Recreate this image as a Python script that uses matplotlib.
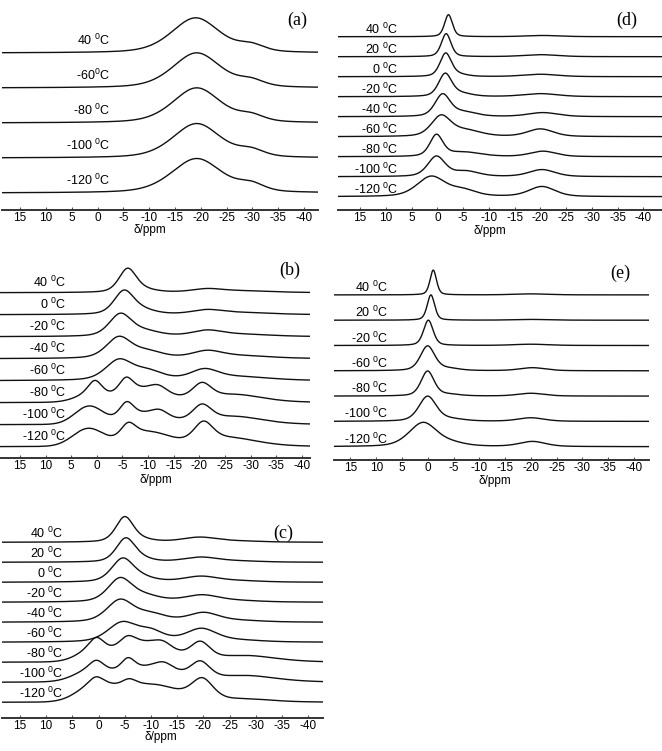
import numpy as np
import matplotlib
matplotlib.use("Agg")
import matplotlib.pyplot as plt

plt.rcParams['font.family'] = ['Liberation Sans', 'DejaVu Sans']
plt.rcParams['mathtext.fontset'] = 'custom'
plt.rcParams['mathtext.rm'] = 'Liberation Sans'
plt.rcParams['mathtext.it'] = 'Liberation Sans'
plt.rcParams['axes.unicode_minus'] = False

# ---- data: each trace = list of (centre ppm, height, width ppm[, lorentz fraction]),
# top trace first; heights in units of the trace spacing
a_labels = ["40 $^0$C", "-60$^0$C", "-80 $^0$C", "-100 $^0$C", "-120 $^0$C"]
a_peaks = [
    [(-19.0, 1.00, 11.0), (-29.8, 0.18, 6.0)],
    [(-19.2, 1.00, 11.0), (-29.8, 0.17, 6.0)],
    [(-19.2, 1.00, 11.0), (-29.8, 0.17, 6.0)],
    [(-19.2, 0.98, 11.0), (-29.8, 0.18, 6.0)],
    [(-19.2, 0.98, 11.5), (-29.8, 0.20, 6.0)],
]

b_labels = ["40 $^0$C", "0 $^0$C", "-20 $^0$C", "-40 $^0$C", "-60 $^0$C",
            "-80 $^0$C", "-100 $^0$C", "-120 $^0$C"]
b_peaks = [
    [(-6.0, 1.05, 4.0), (-9.0, 0.12, 6.0), (-21.5, 0.14, 7.0), (-28.0, 0.08, 14.0)],
    [(-5.3, 1.05, 4.6), (-9.0, 0.18, 6.0), (-21.5, 0.18, 7.0), (-28.0, 0.09, 14.0)],
    [(-4.6, 1.00, 5.2), (-9.5, 0.22, 7.0), (-21.5, 0.24, 7.0), (-28.0, 0.10, 14.0)],
    [(-4.3, 0.95, 5.8), (-10.0, 0.30, 7.0), (-21.5, 0.30, 7.0), (-28.0, 0.12, 14.0)],
    [(-4.3, 0.90, 6.2), (-10.0, 0.40, 7.0), (-21.0, 0.45, 6.5), (-28.0, 0.16, 14.0)],
    [(1.0, 0.35, 7.0, 0.0), (0.35, 0.60, 3.2), (-9.5, 0.55, 10.0, 0.0), (-5.7, 0.72, 3.4),
     (-12.0, 0.28, 4.0), (-20.5, 0.72, 4.5), (-27.0, 0.35, 13.0)],
    [(1.5, 0.82, 6.5, 0.0), (-10.0, 0.45, 9.0, 0.0), (-5.8, 0.75, 3.4),
     (-12.3, 0.25, 3.8), (-20.5, 0.75, 4.5), (-27.0, 0.35, 13.0)],
    [(1.7, 0.80, 7.0, 0.0), (-10.0, 0.62, 10.0, 0.0), (-6.1, 0.65, 3.5),
     (-20.8, 0.90, 4.5), (-26.0, 0.38, 13.0)],
]

c_labels = ["40 $^0$C", "20 $^0$C", "0 $^0$C", "-20 $^0$C", "-40 $^0$C", "-60 $^0$C",
            "-80 $^0$C", "-100 $^0$C", "-120 $^0$C"]
c_peaks = [
    [(-5.0, 1.25, 4.0), (-8.5, 0.10, 5.0), (-19.3, 0.24, 8.0), (-27.0, 0.05, 10.0)],
    [(-5.2, 1.18, 4.3), (-8.5, 0.12, 5.0), (-19.5, 0.24, 8.0), (-27.0, 0.05, 10.0)],
    [(-4.6, 1.15, 5.0), (-8.5, 0.18, 6.0), (-19.5, 0.28, 8.0), (-27.0, 0.06, 10.0)],
    [(-4.1, 1.15, 5.5), (-9.0, 0.28, 7.0), (-19.7, 0.34, 8.0), (-27.0, 0.06, 10.0)],
    [(-4.1, 1.08, 6.0), (-10.0, 0.38, 7.0), (-20.0, 0.45, 7.0), (-27.0, 0.07, 10.0)],
    [(-4.5, 0.95, 6.5), (-10.0, 0.50, 6.0), (-19.6, 0.65, 7.0), (-27.0, 0.08, 10.0)],
    [(1.0, 0.55, 7.0, 0.0), (0.4, 0.55, 3.3), (-9.0, 0.90, 11.0, 0.0), (-5.5, 0.55, 3.8),
     (-12.3, 0.30, 4.2), (-19.4, 0.85, 4.5), (-28.0, 0.32, 14.0)],
    [(1.0, 0.60, 8.0, 0.0), (0.4, 0.42, 3.2), (-10.0, 0.70, 11.0, 0.0), (-5.6, 0.65, 3.2),
     (-12.5, 0.33, 4.2), (-19.4, 0.85, 4.5), (-28.0, 0.32, 14.0)],
    [(0.5, 0.85, 8.0, 0.0), (0.5, 0.30, 3.0), (-10.0, 0.85, 12.0, 0.0), (-5.8, 0.40, 3.5),
     (-19.8, 1.05, 5.0), (-28.0, 0.15, 12.0)],
]

d_labels = ["40 $^0$C", "20 $^0$C", "0 $^0$C", "-20 $^0$C", "-40 $^0$C", "-60 $^0$C",
            "-80 $^0$C", "-100 $^0$C", "-120 $^0$C"]
d_peaks = [
    [(-2.15, 1.10, 1.8), (-20.5, 0.06, 8.0)],
    [(-1.7, 1.15, 2.2), (-20.0, 0.10, 8.0)],
    [(-1.6, 1.15, 2.6), (-4.0, 0.10, 4.0), (-20.0, 0.12, 8.0)],
    [(-1.5, 1.12, 3.0), (-4.5, 0.15, 5.0), (-20.0, 0.15, 8.0)],
    [(-1.0, 1.08, 3.5), (-5.0, 0.22, 6.0), (-20.5, 0.20, 7.0)],
    [(-0.7, 1.00, 4.5), (-5.5, 0.30, 7.0), (-20.0, 0.38, 6.0)],
    [(0.2, 1.05, 3.0), (-5.0, 0.22, 8.0), (-20.5, 0.27, 6.0)],
    [(0.2, 1.00, 4.0), (-5.5, 0.26, 6.0), (-20.3, 0.35, 6.0)],
    [(1.2, 1.00, 6.5), (-5.0, 0.30, 6.0), (-20.3, 0.50, 6.0)],
]

e_labels = ["40 $^0$C", "20 $^0$C", "-20 $^0$C", "-60 $^0$C", "-80 $^0$C",
            "-100 $^0$C", "-120 $^0$C"]
e_peaks = [
    [(-1.05, 0.98, 1.5), (-20.0, 0.04, 8.0)],
    [(-0.6, 1.00, 1.7), (-20.0, 0.03, 8.0)],
    [(-0.1, 1.00, 2.2), (-20.0, 0.05, 8.0)],
    [(0.05, 0.97, 3.3), (-4.0, 0.08, 5.0), (-20.3, 0.12, 6.0)],
    [(0.05, 0.98, 3.0), (-4.0, 0.06, 5.0), (-20.0, 0.11, 6.0)],
    [(0.05, 0.98, 4.0), (-4.5, 0.08, 6.0), (-20.0, 0.14, 6.0)],
    [(0.9, 0.95, 6.5), (-5.0, 0.10, 6.0), (-20.3, 0.20, 6.0)],
]

ppm_ticks = [15, 10, 5, 0, -5, -10, -15, -20, -25, -30, -35, -40]


def line_shape(x, peaks):
    y = np.zeros_like(x)
    for p in peaks:
        c, h, w = p[:3]
        eta = p[3] if len(p) > 3 else 0.4
        d = (x - c) / w
        y += h * (eta / (1 + 4 * d ** 2) + (1 - eta) * np.exp(-4 * np.log(2) * d ** 2))
    return y


W, H = 662, 751
fig = plt.figure(figsize=(W / 100, H / 100), dpi=100)


def panel(labels, peaks, tag, box, base0, spacing, xlim, lab_x, lab_dy, tag_xy, xlab_xy):
    left, right, top, axis_y = box
    ax = fig.add_axes([left / W, 1 - axis_y / H, (right - left) / W, (axis_y - top) / H])
    x = np.linspace(xlim[0], xlim[1], 1500)
    n = len(labels)
    for k, (lab, pk) in enumerate(zip(labels, peaks)):
        off = n - 1 - k
        ax.plot(x, off + line_shape(x, pk), color='#111111', lw=1.0)
        ax.text(lab_x, off + lab_dy, lab, ha='right', va='center', fontsize=9)
    ax.set_xlim(xlim)
    ax.set_ylim(-(axis_y - base0) / spacing, (base0 - top) / spacing)
    for s in ['top', 'left', 'right']:
        ax.spines[s].set_visible(False)
    ax.spines['bottom'].set_color('#333333')
    ax.spines['bottom'].set_linewidth(1.4)
    ax.set_yticks([])
    ax.set_xticks(ppm_ticks)
    ax.set_xticklabels([str(t) for t in ppm_ticks])
    ax.tick_params(axis='x', direction='in', length=2.5, width=0.8, color='#555555',
                   labelsize=8.5, pad=1.5)
    ax.set_xlabel("δ/ppm", fontsize=8.5)
    ax.xaxis.label.set_va('center')
    ax.xaxis.set_label_coords((xlab_xy[0] - left) / (right - left),
                              -(xlab_xy[1] - axis_y) / (axis_y - top))
    fig.text(tag_xy[0] / W, 1 - tag_xy[1] / H, tag, family='Liberation Serif',
             fontsize=13, ha='center', va='center')
    return ax


panel(a_labels, a_peaks, "(a)", (2, 318, 5, 210), 193, 35, (18.5, -42.7), -2.4, 0.35,
      (297, 20), (150, 230))
panel(b_labels, b_peaks, "(b)", (0, 310, 250, 458), 446.7, 22, (18.9, -41.6), 5.9, 0.45,
      (290, 270), (156, 480))
panel(c_labels, c_peaks, "(c)", (2, 323, 505, 718), 702.3, 20, (18.4, -42.8), 6.7, 0.45,
      (283, 533), (161, 737))
panel(d_labels, d_peaks, "(d)", (338, 662, 5, 210), 196.7, 20, (19.3, -43.6), 7.6, 0.37,
      (627, 20), (490, 231))
panel(e_labels, e_peaks, "(e)", (334, 649, 250, 460), 446.7, 25.3, (18.2, -42.9), 7.7, 0.3,
      (620, 273), (495, 481))

fig.savefig("out.png", dpi=100)
